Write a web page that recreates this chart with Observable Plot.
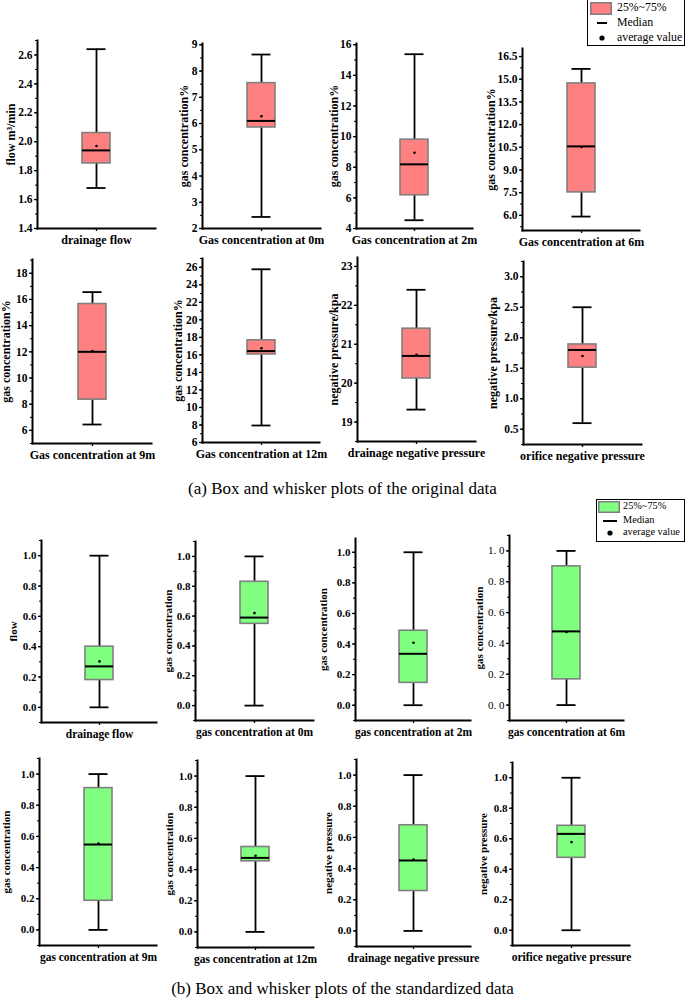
<!DOCTYPE html>
<html><head><meta charset="utf-8">
<script src="https://cdn.jsdelivr.net/npm/d3@7"></script>
<script src="https://cdn.jsdelivr.net/npm/@observablehq/plot@0.6"></script>
<style>
body{margin:0;background:#fff}
#root{position:relative;width:685px;height:999px;overflow:hidden;font-family:"Liberation Serif","Times New Roman",serif;color:#000}
.panel{position:absolute}
.panel svg{overflow:visible}
.legend{position:absolute;border:1.5px solid #000;background:#fff;box-sizing:border-box;font-family:"Liberation Serif",serif}
.legend .row{position:absolute;white-space:nowrap;line-height:1}
.caption{position:absolute;left:0;width:685px;text-align:center;font-size:17px;line-height:1;font-family:"Liberation Serif",serif}
</style>
</head><body><div id="root"></div>
<script>
// ---- data ----
const xLabels = [
  "drainage flow","Gas concentration at 0m","Gas concentration at 2m","Gas concentration at 6m",
  "Gas concentration at 9m","Gas concentration at 12m","drainage negative pressure","orifice negative pressure",
  "drainage flow","gas concentration at 0m","gas concentration at 2m","gas concentration at 6m",
  "gas concentration at 9m","gas concentration at 12m","drainage negative pressure","orifice negative pressure"
];
const yTitles = [
  "flow m³/min","gas concentration%","gas concentration%","gas concentration%",
  "gas concentration%","gas concentration%","negative pressure/kpa","negative pressure/kpa",
  "flow","gas concentration","gas concentration","gas concentration",
  "gas concentration","gas concentration","negative pressure","negative pressure"
];
const whiskLo = [1.68, 2.44, 4.54, 5.92, 6.45, 7.94, 19.32, 0.60, 0, 0, 0, 0, 0, 0, 0, 0];
const q1      = [1.85, 5.85, 6.17, 7.52, 8.35, 16.05, 20.12, 1.51, 0.18, 0.548, 0.146, 0.167, 0.187, 0.453, 0.256, 0.475];
const medians = [1.94, 6.10, 8.19, 10.56, 12.0, 16.43, 20.70, 1.80, 0.27, 0.59, 0.336, 0.478, 0.548, 0.475, 0.452, 0.632];
const means   = [1.97, 6.28, 8.95, 10.52, 12.05, 16.75, 20.73, 1.70, 0.303, 0.62, 0.408, 0.474, 0.555, 0.489, 0.458, 0.578];
const q3      = [2.06, 7.54, 9.80, 14.72, 15.65, 17.66, 21.40, 1.89, 0.40, 0.83, 0.487, 0.90, 0.91, 0.545, 0.678, 0.685];
const whiskHi = [2.64, 8.63, 15.38, 15.68, 16.56, 25.77, 22.40, 2.50, 1, 1, 1, 1, 1, 1, 1, 1];
const yMin    = [1.4, 2, 4, 5, 5, 6, 18.5, 0.25, -0.1, -0.1, -0.1, -0.1, -0.1, -0.1, -0.1, -0.1];
const yMax    = [2.7, 9.05, 16.08, 17.03, 19.05, 27, 23.23, 3.25, 1.1, 1.1, 1.09, 1.1, 1.1, 1.1, 1.1, 1.1];
const tickStart = [1.4, 2, 4, 6, 6, 6, 19, 0.5, 0, 0, 0, 0, 0, 0, 0, 0];
const tickStop  = [2.6, 9, 16, 16.5, 18, 26, 23, 3.0, 1, 1, 1, 1, 1, 1, 1, 1];
const tickStep  = [0.2, 1, 2, 1.5, 2, 2, 1, 0.5, 0.2, 0.2, 0.2, 0.2, 0.2, 0.2, 0.2, 0.2];
const tickDigits= [1, 0, 0, 1, 0, 0, 0, 1, 1, 1, 1, 1, 1, 1, 1, 1];
const legendLabels = ["25%~75%", "Median", "average value"];
const captions = ["(a) Box and whisker plots of the original data", "(b) Box and whisker plots of the standardized data"];

// ---- layout (pixel frame of each panel: left axis x, top, bottom, right, y-title offset) ----
const frames = [
  [37, 40, 228, 155, 31], [202, 43, 228, 320, 23], [356, 43, 228, 472, 27], [522, 48, 230, 639, 36],
  [32, 259, 443, 151, 31], [202, 258, 442, 319, 29], [357, 257, 441, 475, 28], [523, 261, 444, 641, 35],
  [41, 540, 722, 156, 32], [195, 541, 720, 313, 31], [355, 538, 720, 470, 36], [509, 535, 720, 623, 34],
  [39, 758, 945, 156, 37], [197, 760, 947, 313, 32], [356, 759, 946, 470, 32], [512, 762, 945, 629, 33]
];

const root = document.getElementById("root");
const FONT = "Liberation Serif, Times New Roman, serif";

xLabels.forEach((label, i) => {
  const [L, T, B, R, lOff] = frames[i];
  const ML = 55, MR = 35, MT = 6, MB = 28;
  const W = R - L;
  const std = i >= 8;
  const boxW = 28;
  const pad = (W - boxW) / (W + boxW);
  const row = [{label, lo: whiskLo[i], q1: q1[i], med: medians[i], mean: means[i], q3: q3[i], hi: whiskHi[i]}];
  const eps = tickStep[i] / 1000;
  const major = d3.range(tickStart[i], tickStop[i] + eps, tickStep[i]);
  const minor = d3.range(tickStart[i] - tickStep[i] / 2, yMax[i] + eps, tickStep[i] / 2)
    .filter(v => v >= yMin[i] - eps && v <= yMax[i] + eps);
  const spaced = i === 11;
  const f = d3.format("." + tickDigits[i] + "f");
  const fmt = spaced ? (d => f(d).replace(".", ". ")) : f;
  const fill = std ? "#80ff80" : "#ff8080";
  const chart = Plot.plot({
    width: W + ML + MR,
    height: (B - T) + MT + MB,
    marginLeft: ML, marginRight: MR, marginTop: MT, marginBottom: MB,
    style: "font-family: 'Liberation Serif', 'Times New Roman', serif; font-weight: bold; background: transparent; overflow: visible; color: #000;",
    x: {type: "band", domain: [label], padding: pad, axis: null},
    y: {domain: [yMin[i], yMax[i]], axis: null},
    marks: [
      Plot.axisY({ticks: minor, tickSize: 2, tickFormat: () => "", label: null, strokeWidth: 1}),
      Plot.axisY({
        ticks: major, tickSize: 3, tickPadding: 2, tickFormat: fmt, strokeWidth: 1.3,
        fontFamily: FONT, fontSize: std ? 11 : 11.5, fontWeight: spaced ? "normal" : "bold",
        label: null
      }),
      Plot.axisY({
        ticks: [], label: yTitles[i], labelAnchor: "center", labelArrow: "none",
        labelOffset: lOff, fontFamily: FONT, fontSize: std ? 11 : 12, fontWeight: "bold"
      }),
      Plot.axisX({tickSize: 3, tickPadding: 4, fontFamily: FONT, fontWeight: "bold", fontSize: std ? 11.5 : 12, label: null, strokeWidth: 1.3}),
      Plot.ruleX(row, {x: "label", y1: "lo", y2: "hi", stroke: "#000", strokeWidth: 1.8}),
      Plot.tickY(row, {x: "label", y: "lo", insetLeft: 4.5, insetRight: 4.5, stroke: "#000", strokeWidth: 1.8}),
      Plot.tickY(row, {x: "label", y: "hi", insetLeft: 4.5, insetRight: 4.5, stroke: "#000", strokeWidth: 1.8}),
      Plot.barY(row, {x: "label", y1: "q1", y2: "q3", fill, stroke: "#7f7f7f", strokeWidth: 1.6}),
      Plot.tickY(row, {x: "label", y: "med", stroke: "#000", strokeWidth: 2}),
      Plot.dot(row, {x: "label", y: "mean", r: 1.3, fill: "#000", stroke: null}),
      Plot.frame({anchor: "left", stroke: "#000", strokeWidth: 2}),
      Plot.frame({anchor: "bottom", stroke: "#000", strokeWidth: 2})
    ]
  });
  const wrap = document.createElement("div");
  wrap.className = "panel";
  wrap.style.left = (L - ML) + "px";
  wrap.style.top = (T - MT) + "px";
  wrap.appendChild(chart);
  root.appendChild(wrap);
});

// ---- legends ----
function legend(opts) {
  const d = document.createElement("div");
  d.className = "legend";
  Object.assign(d.style, {left: opts.left + "px", top: opts.top + "px", width: opts.w + "px", height: opts.h + "px"});
  const ys = opts.rows;
  const sw = `<svg width="${opts.sw}" height="${opts.sh}" style="display:block"><rect x="0.75" y="0.75" width="${opts.sw-1.5}" height="${opts.sh-1.5}" fill="${opts.fill}" stroke="#7f7f7f" stroke-width="1.5"/></svg>`;
  const line = `<svg width="${opts.lw}" height="4" style="display:block"><line x1="0" x2="${opts.lw}" y1="2" y2="2" stroke="#000" stroke-width="2"/></svg>`;
  const dot = `<svg width="6" height="6" style="display:block"><circle cx="3" cy="3" r="2.6" fill="#000"/></svg>`;
  const icons = [[sw, opts.swx, opts.sh], [line, opts.lx, 4], [dot, opts.dx, 6]];
  legendLabels.forEach((t, k) => {
    const [svg, x, h] = icons[k];
    const ic = document.createElement("div");
    ic.className = "row";
    ic.style.left = x + "px"; ic.style.top = (ys[k] - h / 2) + "px";
    ic.innerHTML = svg;
    d.appendChild(ic);
    const tx = document.createElement("div");
    tx.className = "row";
    tx.style.left = opts.tx + "px"; tx.style.top = (ys[k] - opts.fs * 0.55) + "px";
    tx.style.fontSize = opts.fs + "px";
    tx.textContent = t;
    d.appendChild(tx);
  });
  root.appendChild(d);
}
legend({left: 587, top: -2, w: 98, h: 48, rows: [9, 24, 39], fill: "#ff8080", sw: 22, sh: 13, swx: 2, lw: 10, lx: 9, dx: 11, tx: 29, fs: 11.8});
legend({left: 596, top: 499, w: 89, h: 43, rows: [7, 21, 33], fill: "#80ff80", sw: 22, sh: 12, swx: 1, lw: 14, lx: 6, dx: 10, tx: 26, fs: 10.3});

// ---- captions ----
[[captions[0], 480], [captions[1], 980]].forEach(([t, y]) => {
  const c = document.createElement("div");
  c.className = "caption";
  c.style.top = y + "px";
  c.textContent = t;
  root.appendChild(c);
});
</script>
</body></html>
